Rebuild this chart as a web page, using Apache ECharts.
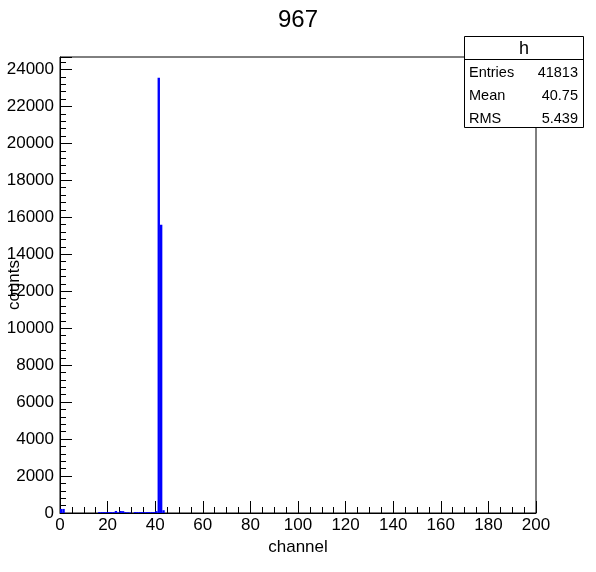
<!DOCTYPE html>
<html>
<head>
<meta charset="utf-8">
<script src="https://cdn.jsdelivr.net/npm/echarts@6/dist/echarts.min.js"></script>
<style>
html,body{margin:0;padding:0;background:#fff;}
#c{width:596px;height:572px;}
</style>
</head>
<body>
<div id="c"></div>
<script>
// Histogram "h": 200 bins of width 1 over channel 0..200
const binLow = 0;
const binWidth = 1;
const counts = [
  220,220,0,0,0,0,0,0,0,0,
  0,0,0,0,0,0,50,50,50,50,
  50,50,50,110,40,110,100,50,40,30,
  0,50,50,50,50,50,50,50,50,50,
  100,23550,15600,150,0,0,0,0,0,0,
  0,0,0,0,0,0,0,0,0,0,
  0,0,0,0,0,0,0,0,0,0,
  0,0,0,0,0,0,0,0,0,0,
  0,0,0,0,0,0,0,0,0,0,
  0,0,0,0,0,0,0,0,0,0,
  0,0,0,0,0,0,0,0,0,0,
  0,0,0,0,0,0,0,0,0,0,
  0,0,0,0,0,0,0,0,0,0,
  0,0,0,0,0,0,0,0,0,0,
  0,0,0,0,0,0,0,0,0,0,
  0,0,0,0,0,0,0,0,0,0,
  0,0,0,0,0,0,0,0,0,0,
  0,0,0,0,0,0,0,0,0,0,
  0,0,0,0,0,0,0,0,0,0,
  0,0,0,0,0,0,0,0,0,0
];
const titleText = "967";
const xTitle = "channel";
const yTitle = "counts";
const statsName = "h";
const statsLabels = ["Entries", "Mean", "RMS"];
const statsValues = ["41813", "40.75", "5.439"];
const xMin = 0, xMax = 200, xStep = 20;
const yMin = 0, yMax = 24675, yStep = 2000;

const FONT = "Liberation Sans, Arial, Helvetica, sans-serif";
const histData = counts.map((c, i) => [binLow + i * binWidth, binLow + (i + 1) * binWidth, c]);

const chart = echarts.init(document.getElementById('c'), null, {renderer: 'canvas'});

const rowH = 23;
const statsGraphics = [
  {type: 'rect', shape: {x: 0.5, y: 0.5, width: 119, height: 91}, style: {fill: '#fff', stroke: '#000', lineWidth: 1}},
  {type: 'line', shape: {x1: 0.5, y1: 23.5, x2: 119.5, y2: 23.5}, style: {stroke: '#000', lineWidth: 1}},
  {type: 'text', x: 60, y: 13, style: {text: statsName, font: '18px ' + FONT, fill: '#000', textAlign: 'center', textVerticalAlign: 'middle'}}
];
statsLabels.forEach((lab, i) => {
  statsGraphics.push({type: 'text', x: 5, y: 37 + i * rowH, style: {text: lab, font: '14.5px ' + FONT, fill: '#000', textAlign: 'left', textVerticalAlign: 'middle'}});
  statsGraphics.push({type: 'text', x: 114, y: 37 + i * rowH, style: {text: statsValues[i], font: '14.5px ' + FONT, fill: '#000', textAlign: 'right', textVerticalAlign: 'middle'}});
});

chart.setOption({
  animation: false,
  backgroundColor: '#fff',
  title: {
    text: titleText, left: 'center', top: 3,
    textStyle: {fontFamily: FONT, fontSize: 24, fontWeight: 'normal', color: '#000'}
  },
  grid: {left: 60, right: 60, top: 57, bottom: 59, show: true, borderColor: '#000', borderWidth: 1, containLabel: false, outerBoundsMode: 'none'},
  xAxis: {
    type: 'value', min: xMin, max: xMax, interval: xStep,
    name: xTitle, nameLocation: 'middle', nameGap: 26, nameMoveOverlap: false,
    nameTextStyle: {fontFamily: FONT, fontSize: 17, color: '#000'},
    axisLine: {show: true, onZero: false, lineStyle: {color: '#000', width: 1}},
    axisTick: {show: true, inside: true, length: 12, lineStyle: {color: '#000'}},
    minorTick: {show: true, splitNumber: 4, length: 6, lineStyle: {color: '#000'}},
    axisLabel: {fontFamily: FONT, fontSize: 17, color: '#000', margin: 4},
    splitLine: {show: false}
  },
  yAxis: {
    type: 'value', min: yMin, max: yMax, interval: yStep,
    name: yTitle, nameLocation: 'middle', nameGap: 37, nameMoveOverlap: false,
    nameTextStyle: {fontFamily: FONT, fontSize: 17, color: '#000'},
    axisLine: {show: true, onZero: false, lineStyle: {color: '#000', width: 1}},
    axisTick: {show: true, inside: true, length: 12, lineStyle: {color: '#000'}},
    minorTick: {show: true, splitNumber: 5, length: 6, lineStyle: {color: '#000'}},
    axisLabel: {fontFamily: FONT, fontSize: 17, color: '#000', margin: 6, showMaxLabel: false, formatter: v => String(v)},
    splitLine: {show: false}
  },
  series: [{
    type: 'custom',
    data: histData,
    encode: {x: [0, 1], y: 2},
    renderItem: function (params, api) {
      const lo = api.value(0), hi = api.value(1), c = api.value(2);
      if (c <= 0) return null;
      const p1 = api.coord([lo, c]);
      const p2 = api.coord([hi, yMin]);
      return {
        type: 'rect',
        shape: {x: p1[0], y: p1[1], width: p2[0] - p1[0], height: p2[1] - p1[1]},
        style: {fill: '#0000ff', stroke: null}
      };
    }
  }],
  graphic: [{type: 'group', x: 464, y: 36, z: 100, children: statsGraphics}]
});
</script>
</body>
</html>
